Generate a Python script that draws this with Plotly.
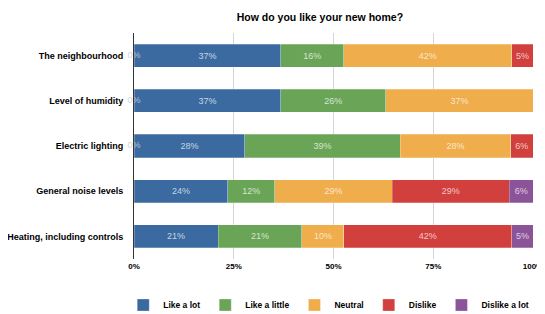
import plotly.graph_objects as go

categories = ["The neighbourhood", "Level of humidity", "Electric lighting",
              "General noise levels", "Heating, including controls"]
series_names = ["Like a lot", "Like a little", "Neutral", "Dislike", "Dislike a lot"]
like_a_lot = [36.8, 36.8, 27.8, 23.5, 21.1]
like_a_little = [15.8, 26.3, 38.9, 11.8, 21.0]
neutral = [42.1, 36.9, 27.7, 29.4, 10.5]
dislike = [5.3, 0.0, 5.6, 29.4, 42.1]
dislike_a_lot = [0.0, 0.0, 0.0, 5.9, 5.3]
x_tick_values = [0, 25, 50, 75, 100]
x_tick_labels = ["0%", "25%", "50%", "75%", "100%"]
title_text = "How do you like your new home?"

colors = ["#3a6aa0", "#6aa557", "#efad4b", "#d1403c", "#8b5498"]
all_series = [like_a_lot, like_a_little, neutral, dislike, dislike_a_lot]

FONT = "Liberation Sans, Arial, sans-serif"

# the page body has an 8px margin, so the figure is sized to the visible area
W, H = 537, 306
ML, MR, MT, MB = 126, 12, 25, 55
PH = H - MT - MB

fig = go.Figure()
for name, vals, col in zip(series_names, all_series, colors):
    fig.add_trace(go.Bar(
        y=categories, x=vals, name=name, orientation="h",
        marker=dict(color=col, line=dict(color="rgba(255,255,255,0.5)", width=0.5)),
        text=[f"{v:.0f}%" if v > 0 else "" for v in vals],
        textposition="inside", insidetextanchor="middle", textangle=0,
        constraintext="none",
        insidetextfont=dict(family=FONT, size=9, color="rgba(255,255,255,0.72)"),
        hoverinfo="skip",
    ))

# zero-value labels drawn at the base of each bar
zero_rows = [c for i, c in enumerate(categories) if any(s[i] == 0 for s in all_series)]
fig.add_trace(go.Scatter(
    y=zero_rows, x=[0] * len(zero_rows), mode="text", text=["0%"] * len(zero_rows),
    textposition="middle center", showlegend=False, cliponaxis=False,
    textfont=dict(family=FONT, size=9, color="rgba(205,205,205,0.9)"), hoverinfo="skip",
))

fig.update_layout(
    barmode="stack", bargap=0.49,
    width=W, height=H,
    margin=dict(l=ML, r=MR, t=MT, b=MB, autoexpand=False),
    paper_bgcolor="white", plot_bgcolor="white",
    font=dict(family=FONT, color="black"),
    title=dict(text="<b>" + title_text + "</b>", x=0.466, xref="paper", xanchor="center",
               y=1 - 9 / H, yref="container", yanchor="middle",
               font=dict(family=FONT, size=10.5, color="black")),
    showlegend=True,
    legend=dict(orientation="h", xref="paper", x=-0.027, xanchor="left",
                yref="paper", y=-(297 - (H - MB)) / PH, yanchor="middle",
                font=dict(family=FONT, size=8.5, color="black", weight="bold"),
                itemwidth=30, traceorder="normal"),
    xaxis=dict(range=[0, 100], tickvals=x_tick_values, ticktext=x_tick_labels,
               showgrid=True, gridcolor="#d6d6d6", gridwidth=1, zeroline=False,
               showline=False, ticks="", automargin=False, ticklabelstandoff=1,
               ticklabeloverflow="allow",
               tickfont=dict(family=FONT, size=8, color="black", weight="bold")),
    yaxis=dict(autorange="reversed", showgrid=False, zeroline=False,
               showline=True, linecolor="#333333", linewidth=1, ticks="",
               automargin=False, ticklabelstandoff=8,
               tickfont=dict(family=FONT, size=9, color="black", weight="bold")),
)

fig.write_html("out.html")
